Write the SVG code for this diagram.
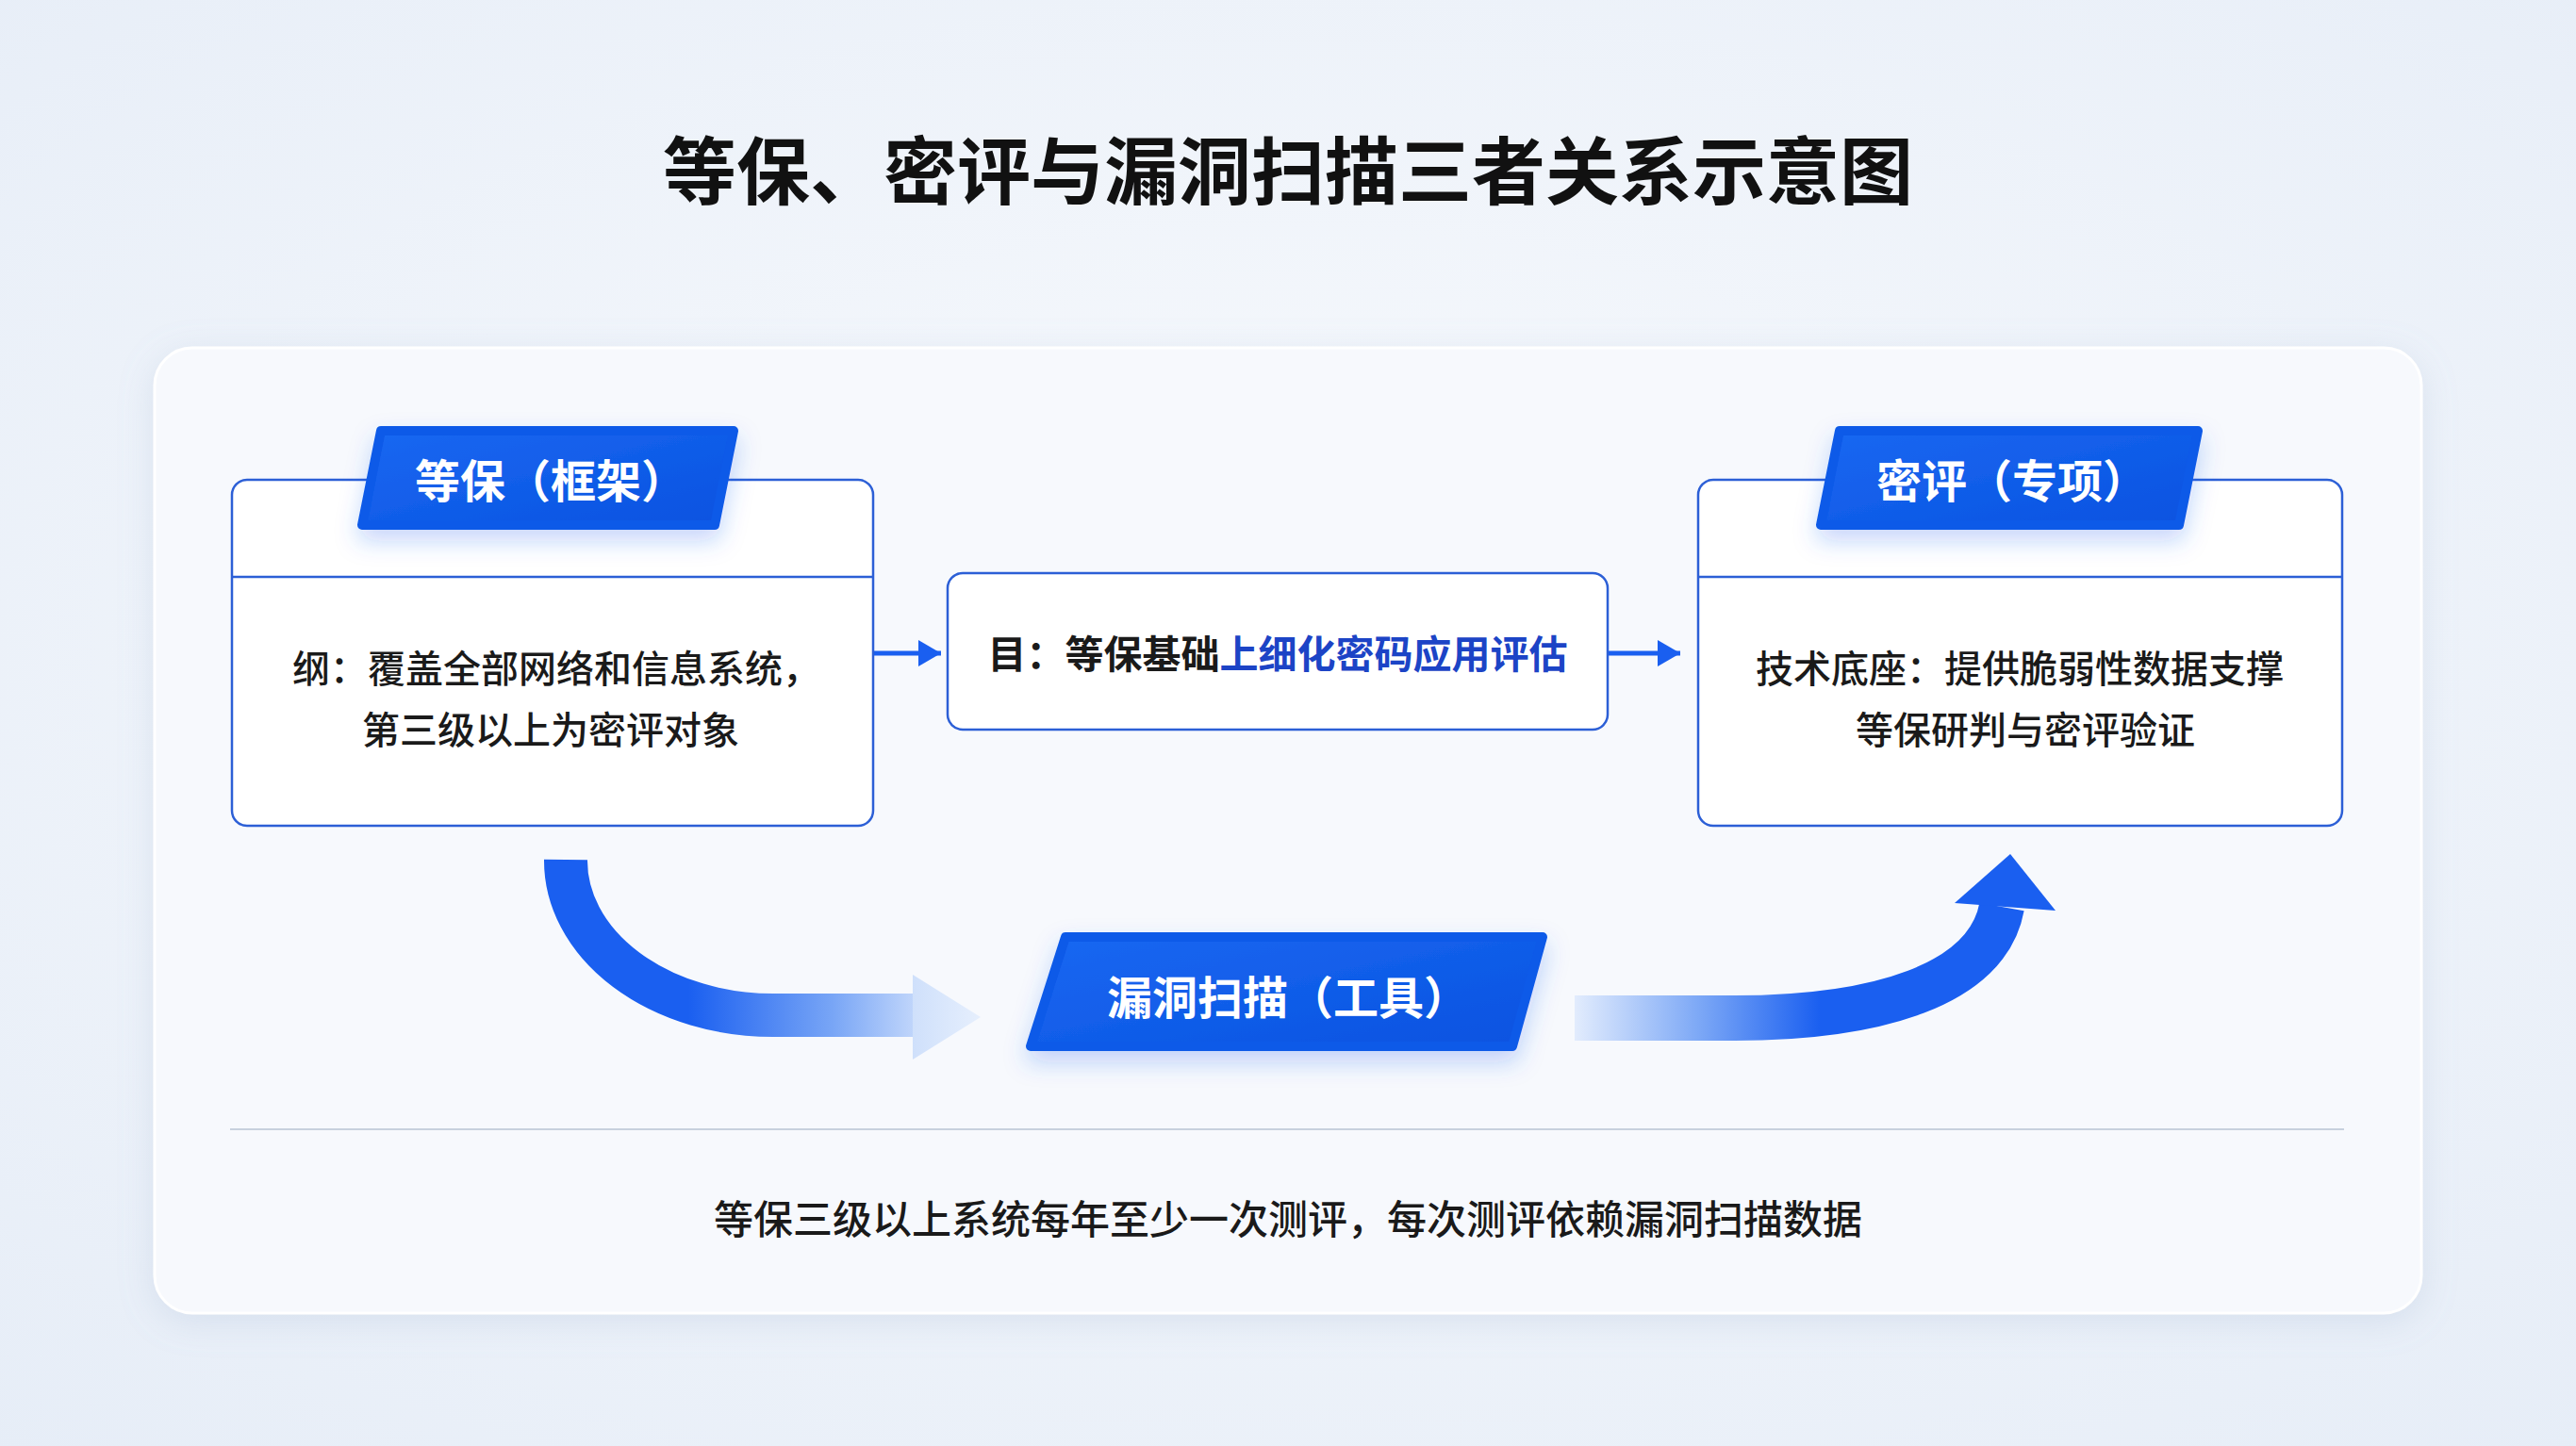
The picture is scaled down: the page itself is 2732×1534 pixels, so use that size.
<svg xmlns="http://www.w3.org/2000/svg" width="2732" height="1534" viewBox="0 0 2732 1534">
  <defs>
    <style>
      .cjk { font-family: "Noto Sans CJK SC", "Noto Sans", sans-serif; }
      .title { font-size: 78px; font-weight: 700; fill: #111111; }
      .tabtext { font-size: 48px; font-weight: 700; fill: #ffffff; }
      .body { font-size: 40px; font-weight: 500; fill: #1a1a1a; }
      .box { fill: #ffffff; stroke: #2c5fd6; stroke-width: 2.5; }
      .divider { stroke: #2c5fd6; stroke-width: 2.5; }
      .conn { stroke: #1a5ff0; stroke-width: 5; fill: none; }
    </style>
    <radialGradient id="bg" cx="50%" cy="45%" r="75%">
      <stop offset="0" stop-color="#f8fafd"/>
      <stop offset="1" stop-color="#e6edf7"/>
    </radialGradient>
    <linearGradient id="tabFill" x1="0" y1="0" x2="1" y2="1">
      <stop offset="0" stop-color="#1a68f2"/>
      <stop offset="1" stop-color="#0852e0"/>
    </linearGradient>
    <linearGradient id="leftArrowGrad" gradientUnits="userSpaceOnUse" x1="730" y1="0" x2="1010" y2="0">
      <stop offset="0" stop-color="#1a5ff0"/>
      <stop offset="0.55" stop-color="#79a6f6"/>
      <stop offset="1" stop-color="#e2ecfd"/>
    </linearGradient>
    <linearGradient id="leftHeadGrad" gradientUnits="userSpaceOnUse" x1="968" y1="0" x2="1040" y2="0">
      <stop offset="0" stop-color="#cfe0fb"/>
      <stop offset="1" stop-color="#e6effd"/>
    </linearGradient>
    <linearGradient id="rightArrowGrad" gradientUnits="userSpaceOnUse" x1="1670" y1="0" x2="1930" y2="0">
      <stop offset="0" stop-color="#e2ecfd"/>
      <stop offset="0.5" stop-color="#7ea9f6"/>
      <stop offset="1" stop-color="#1a5ff0"/>
    </linearGradient>
    <filter id="cardShadow" x="-5%" y="-5%" width="110%" height="115%">
      <feDropShadow dx="0" dy="8" stdDeviation="18" flood-color="#8ea4c8" flood-opacity="0.22"/>
    </filter>
    <filter id="tabShadow" x="-20%" y="-30%" width="140%" height="180%">
      <feDropShadow dx="0" dy="12" stdDeviation="12" flood-color="#1a5ff0" flood-opacity="0.25"/>
    </filter>
    <marker id="arrowHead" markerUnits="userSpaceOnUse" markerWidth="26" markerHeight="30" refX="24" refY="15" orient="auto">
      <polygon points="0,1 24,15 0,29" fill="#1a5ff0"/>
    </marker>
  </defs>

  <!-- background -->
  <rect x="0" y="0" width="2732" height="1534" fill="url(#bg)"/>

  <!-- title -->
  <text class="cjk title" x="1366" y="211" text-anchor="middle">等保、密评与漏洞扫描三者关系示意图</text>

  <!-- card -->
  <rect x="164" y="369" width="2404" height="1024" rx="40" fill="#f7f9fd" stroke="#ffffff" stroke-width="3" filter="url(#cardShadow)"/>

  <!-- connectors -->
  <g id="connectors">
    <line class="conn" x1="927" y1="693" x2="998" y2="693" marker-end="url(#arrowHead)"/>
    <line class="conn" x1="1706" y1="693" x2="1782" y2="693" marker-end="url(#arrowHead)"/>
    <!-- left curved arrow: 等保 -> 漏洞扫描 -->
    <path d="M 600 912 A 220 164 0 0 0 820 1077 L 970 1077" fill="none" stroke="url(#leftArrowGrad)" stroke-width="46"/>
    <polygon points="968,1034 1040,1079 968,1124" fill="url(#leftHeadGrad)"/>
    <!-- right curved arrow: 漏洞扫描 -> 密评 -->
    <path d="M 1670 1080 L 1840 1080 C 1990 1080 2108 1045 2123 962" fill="none" stroke="url(#rightArrowGrad)" stroke-width="48"/>
    <polygon points="2132,906 2180,966 2073,958" fill="#1a5ff0"/>
  </g>

  <!-- node: 等保（框架） -->
  <g id="node-dengbao">
    <rect class="box" x="246" y="509" width="680" height="367" rx="16"/>
    <line class="divider" x1="246" y1="612" x2="926" y2="612"/>
    <polygon points="384,557 404,457 778,457 758,557" fill="url(#tabFill)" stroke="#0f5ae8" stroke-width="10" stroke-linejoin="round" filter="url(#tabShadow)"/>
    <text class="cjk tabtext" x="584" y="528" text-anchor="middle">等保（框架）</text>
    <text class="cjk body" x="590" y="724" text-anchor="middle">纲：覆盖全部网络和信息系统，</text>
    <text class="cjk body" x="584" y="789" text-anchor="middle">第三级以上为密评对象</text>
  </g>

  <!-- node: 目 -->
  <g id="node-mu">
    <rect class="box" x="1005" y="608" width="700" height="166" rx="16"/>
    <text class="cjk body" x="1355" y="709" text-anchor="middle" style="font-weight:700;font-size:41px">目：等保基础<tspan fill="#1c44c6">上细化密码应用评估</tspan></text>
  </g>

  <!-- node: 密评（专项） -->
  <g id="node-mipin">
    <rect class="box" x="1801" y="509" width="683" height="367" rx="16"/>
    <line class="divider" x1="1801" y1="612" x2="2484" y2="612"/>
    <polygon points="1931,557 1951,457 2331,457 2311,557" fill="url(#tabFill)" stroke="#0f5ae8" stroke-width="10" stroke-linejoin="round" filter="url(#tabShadow)"/>
    <text class="cjk tabtext" x="2134" y="528" text-anchor="middle">密评（专项）</text>
    <text class="cjk body" x="2142" y="724" text-anchor="middle">技术底座：提供脆弱性数据支撑</text>
    <text class="cjk body" x="2148" y="789" text-anchor="middle">等保研判与密评验证</text>
  </g>

  <!-- node: 漏洞扫描（工具） -->
  <g id="node-scan">
    <polygon points="1093,1110 1130,994 1636,994 1604,1110" fill="url(#tabFill)" stroke="#0f5ae8" stroke-width="10" stroke-linejoin="round" filter="url(#tabShadow)"/>
    <text class="cjk tabtext" x="1366" y="1076" text-anchor="middle">漏洞扫描（工具）</text>
  </g>

  <!-- footer -->
  <line x1="244" y1="1198" x2="2486" y2="1198" stroke="#c8d1de" stroke-width="2"/>
  <text class="cjk body" x="1366" y="1309" text-anchor="middle" style="font-size:42px">等保三级以上系统每年至少一次测评，每次测评依赖漏洞扫描数据</text>
</svg>
